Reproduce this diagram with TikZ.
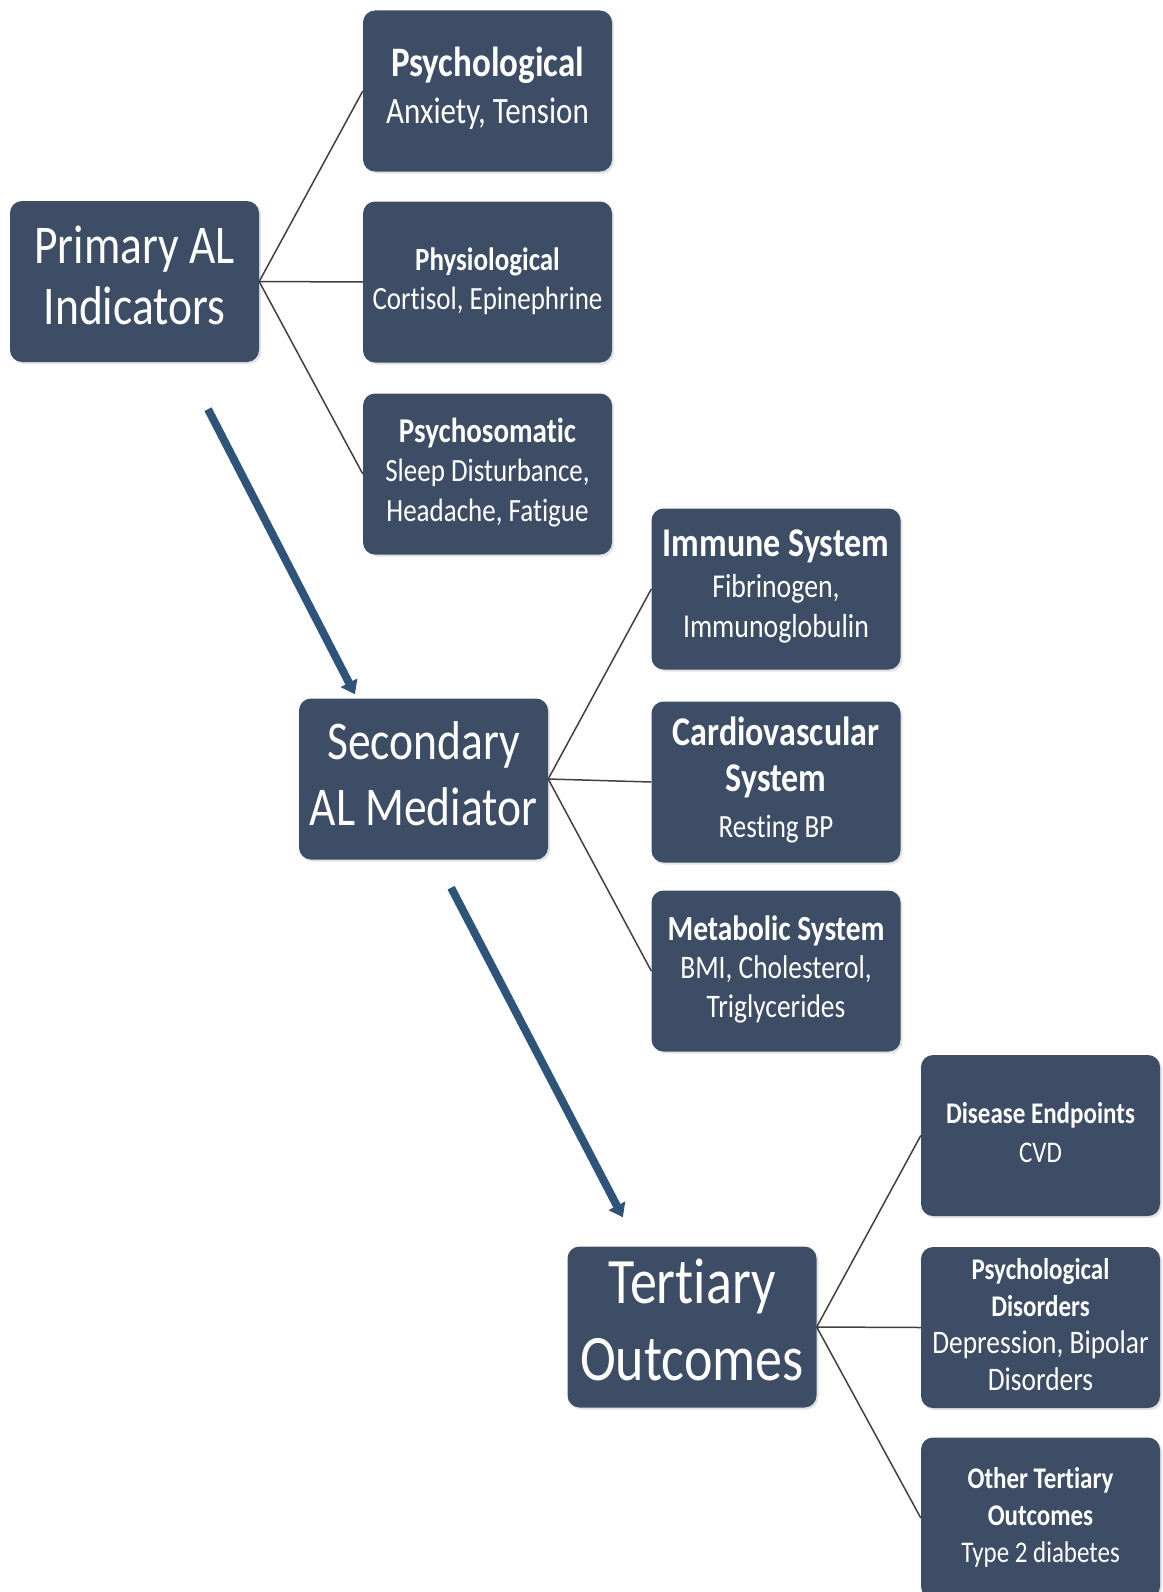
\documentclass[tikz,border=0pt]{standalone}
\usepackage{fontspec}
\setmainfont{Carlito}[Ligatures={NoCommon,NoRequired}]
\usepackage{graphicx}
\usetikzlibrary{arrows.meta,shadows}

\definecolor{boxblue}{RGB}{62,77,102}
\definecolor{arrowblue}{RGB}{46,84,121}
\definecolor{linegray}{RGB}{64,64,64}

% 文字块：原图略被纵向拉长
\newcommand{\lbl}[3]{\scalebox{1}[1.2]{\fontsize{#1}{#2}\selectfont\begin{tabular}{@{}c@{}}#3\end{tabular}}}
\newcommand{\hd}[2]{{\fontsize{#1}{#1}\selectfont\bfseries #2}}
% 拆开 t+i 连字
\newcommand{\tisep}{t\kern0pt i}

\begin{document}
\begin{tikzpicture}[x=1pt, y=-1pt,
  box/.style={rectangle, rounded corners=12pt, fill=boxblue, text=white,
    minimum width=249pt, minimum height=161pt, inner sep=0pt,
    drop shadow={opacity=0.22, shadow xshift=2pt, shadow yshift=-2pt}},
  rbox/.style={box, minimum width=239pt},
  link/.style={draw=linegray, line width=1.5pt},
  bigarrow/.style={draw=arrowblue, line width=8pt, -{Triangle[length=13pt,width=18pt]}}]

  % ── 第一层：Primary AL Indicators 及其三个子框 ──
  \node[box] (primary)   at (134.5,281.5) {\lbl{45.5}{50.8}{Primary AL\\Indicators}};
  \node[box] (psych)     at (487.5, 91)   {\lbl{31}{39}{\hd{35}{Psychological}\\Anxiety, Tension}};
  \node[box] (physio)    at (487.5,282)   {\lbl{27}{32.5}{\hd{27}{Physiological}\\Cortisol, Epinephrine}};
  \node[box] (psychsom)  at (487.5,474)   {\lbl{27}{33}{\hd{29}{Psychosoma\tisep c}\\Sleep Disturbance,\\Headache, Fa\tisep gue}};

  % ── 第二层：Secondary AL Mediator ──
  \node[box] (secondary) at (423.5,779)   {\lbl{45.5}{55}{Secondary\\AL Mediator}};
  \node[box] (immune)    at (776,589)     {\lbl{27.8}{34}{\hd{34}{Immune System}\\Fibrinogen,\\Immunoglobulin}};
  \node[box] (cardio)    at (776,782)     {\lbl{27}{38.5}{\hd{34}{Cardiovascular}\\\hd{34}{System}\\Res\tisep ng BP}};
  \node[box] (metab)     at (776,971)     {\lbl{27.4}{32}{\hd{29.4}{Metabolic System}\\BMI, Cholesterol,\\Triglycerides}};

  % ── 第三层：Tertiary Outcomes ──
  \node[box]  (tertiary) at (692,1327)    {\lbl{54}{64}{Ter\tisep ary\\Outcomes}};
  \node[rbox] (disease)  at (1040.5,1135.5) {\lbl{25}{32}{\hd{25}{Disease Endpoints}\\CVD}};
  \node[rbox] (psychdis) at (1040.5,1327.5) {\lbl{27.4}{31}{\hd{25}{Psychological}\\\hd{25}{Disorders}\\Depression, Bipolar\\Disorders}};
  \node[rbox] (other)    at (1040.5,1518) {\lbl{25}{31}{\hd{25}{Other Ter\tisep ary}\\\hd{25}{Outcomes}\\Type 2 diabetes}};

  % ── 扇形细线：父框右中点 → 子框左中点 ──
  \draw[link] (primary.east) -- (psych.west);
  \draw[link] (primary.east) -- (physio.west);
  \draw[link] (primary.east) -- (psychsom.west);
  \draw[link] (secondary.east) -- (immune.west);
  \draw[link] (secondary.east) -- (cardio.west);
  \draw[link] (secondary.east) -- (metab.west);
  \draw[link] (tertiary.east) -- (disease.west);
  \draw[link] (tertiary.east) -- (psychdis.west);
  \draw[link] (tertiary.east) -- (other.west);

  % ── 两条粗箭头（两端内收，不碰框）──
  \draw[bigarrow, shorten <=52.9pt, shorten >=4.5pt]
    ([xshift=49.3pt]primary.south) -- ([xshift=-66.5pt]secondary.north);
  \draw[bigarrow, shorten <=31.6pt, shorten >=32.7pt]
    ([xshift=13pt]secondary.south) -- ([xshift=-54pt]tertiary.north);

  % 钉死画布
  \pgfresetboundingbox
  \path[use as bounding box] (0,0) rectangle (1162,1592);
\end{tikzpicture}
\end{document}
